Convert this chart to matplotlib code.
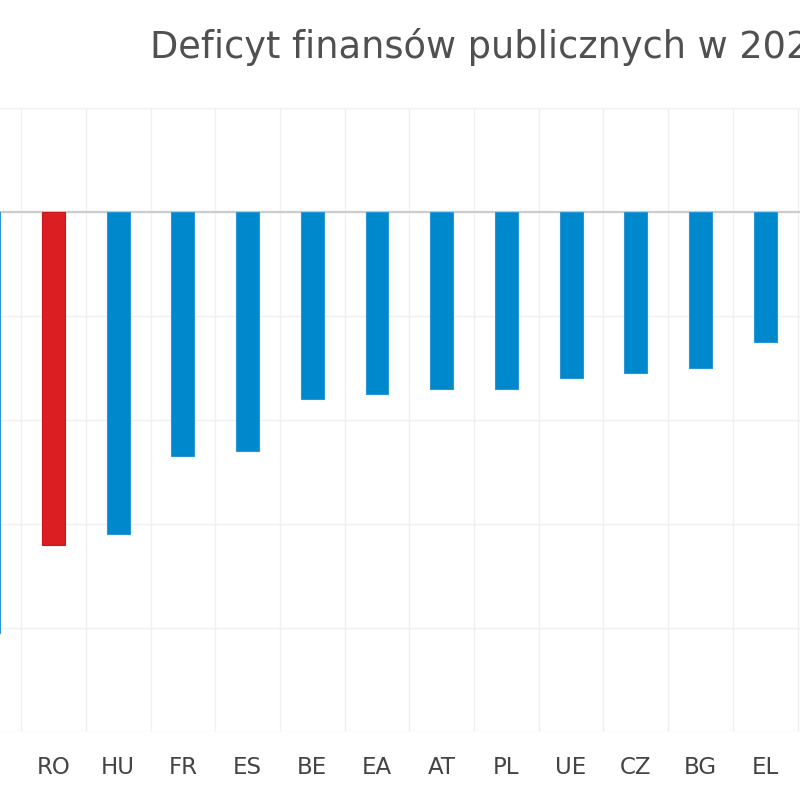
import numpy as np
import matplotlib.pyplot as plt

# deficit, % PKB
countries = ['IT', 'RO', 'HU', 'FR', 'ES', 'BE', 'EA', 'AT', 'PL', 'UE', 'CZ', 'BG', 'EL']
deficit = [-8.1, -6.4, -6.2, -4.7, -4.6, -3.6, -3.5, -3.4, -3.4, -3.2, -3.1, -3.0, -2.5]
highlight = 'RO'

BLUE = '#0088cc'
RED = '#da1e22'

plt.rcParams['font.family'] = ['DejaVu Sans']

fig = plt.figure(figsize=(8, 8), dpi=100)
# chart is wider than the picture, so the axes run past the left/right edges
step = 64.7
ax = fig.add_axes([(53.5 - 1.5*step)/800, 68/800, 13.4*step/800, 624/800])

x = np.arange(len(countries))
colors = [RED if c == highlight else BLUE for c in countries]
edges = ['#c8161a' if c == highlight else '#2a96d6' for c in countries]
ax.bar(x, deficit, width=0.355, color=colors, edgecolor=edges, linewidth=0.8, zorder=3)

ax.set_xlim(-0.5, 12.9)
ax.set_ylim(-10, 2)
ax.set_yticks(np.arange(-10, 3, 2))
ax.set_yticklabels([])
ax.tick_params(axis='y', length=0)

ax.set_xticks(x)
ax.set_xticklabels(countries, fontsize=16.5, color='#444444')
ax.tick_params(axis='x', length=0, pad=17)
ax.set_xticks(np.arange(0.5, 13, 1), minor=True)
ax.tick_params(axis='x', which='minor', length=0)

ax.grid(axis='y', color='#f0f0f0', linewidth=1, zorder=0)
ax.grid(axis='x', which='minor', color='#f0f0f0', linewidth=1, zorder=0)
ax.axhline(0, color='#cccccc', linewidth=1.6, zorder=2)

for s in ax.spines.values():
    s.set_visible(False)

fig.text(150/800, 1 - 47/800, 'Deficyt finansów publicznych w 2021 r.', fontsize=26.5,
         color='#505050', ha='left', va='center')

plt.savefig('out.png', dpi=100)
